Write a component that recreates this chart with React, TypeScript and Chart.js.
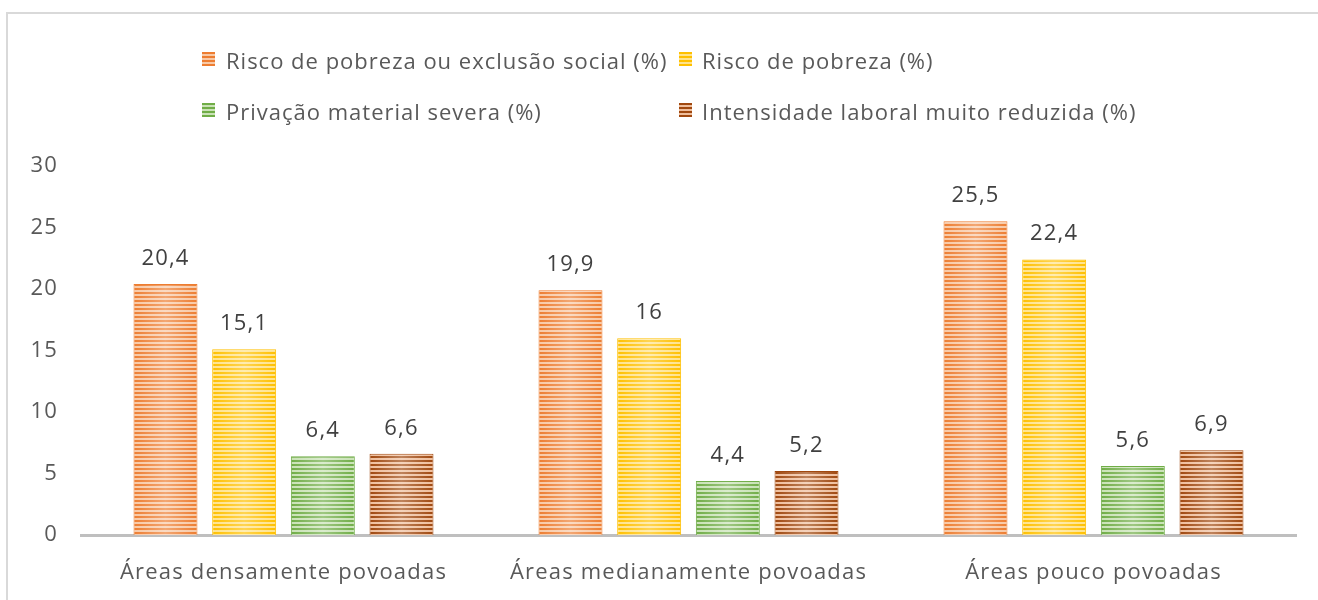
import React, { useEffect, useRef } from "react";
import { Chart, registerables } from "chart.js";

Chart.register(...registerables);

const categories = ["Áreas densamente povoadas", "Áreas medianamente povoadas", "Áreas pouco povoadas"];
const seriesNames = [
  "Risco de pobreza ou exclusão social (%)",
  "Risco de pobreza (%)",
  "Privação material severa (%)",
  "Intensidade laboral muito reduzida (%)",
];
const riscoPobrezaExclusao = [20.4, 19.9, 25.5];
const riscoPobreza = [15.1, 16, 22.4];
const privacaoMaterial = [6.4, 4.4, 5.6];
const intensidadeLaboral = [6.6, 5.2, 6.9];
const yTickValues = [0, 5, 10, 15, 20, 25, 30];

const baseColors = ["#ED7D31", "#FFC000", "#70AD47", "#A0480F"];
const lightColors = ["#F8C9A6", "#FFE38C", "#C9E2B6", "#EFBE9C"];

const FONT = "'Open Sans', 'Noto Sans', sans-serif";
const SPACING = "1.2px";

function makePattern(base: string, light: string): CanvasPattern | string {
  const c = document.createElement("canvas");
  c.width = 4;
  c.height = 4;
  const ctx = c.getContext("2d");
  if (!ctx) return base;
  ctx.fillStyle = light;
  ctx.fillRect(0, 0, 4, 4);
  ctx.fillStyle = base;
  ctx.fillRect(0, 0, 4, 2);
  const p = ctx.createPattern(c, "repeat");
  return p || base;
}

const letterSpacingPlugin = {
  id: "letterSpacing",
  beforeLayout(chart: any) {
    (chart.ctx as any).letterSpacing = SPACING;
  },
  beforeDraw(chart: any) {
    (chart.ctx as any).letterSpacing = SPACING;
  },
};

const overlayAndLabels = {
  id: "overlayAndLabels",
  afterDatasetsDraw(chart: any) {
    const ctx = chart.ctx as CanvasRenderingContext2D;
    ctx.save();
    chart.data.datasets.forEach((ds: any, di: number) => {
      const meta = chart.getDatasetMeta(di);
      meta.data.forEach((bar: any, i: number) => {
        const { x, y, base, width } = bar.getProps(["x", "y", "base", "width"], true);
        const left = x - width / 2;
        const g = ctx.createLinearGradient(left, 0, left + width, 0);
        g.addColorStop(0, "rgba(255,255,255,0)");
        g.addColorStop(0.5, "rgba(255,255,255,0.32)");
        g.addColorStop(1, "rgba(255,255,255,0)");
        ctx.fillStyle = g;
        ctx.fillRect(left + 1, y + 1, width - 2, base - y - 1);
        const v = ds.data[i] as number;
        (ctx as any).letterSpacing = SPACING;
        ctx.fillStyle = "#404040";
        ctx.font = `22px ${FONT}`;
        ctx.textAlign = "center";
        ctx.textBaseline = "alphabetic";
        ctx.fillText(String(v).replace(".", ","), x, y - 19);
      });
    });
    ctx.restore();
  },
};

export default function App() {
  const ref = useRef<HTMLCanvasElement | null>(null);

  useEffect(() => {
    if (!ref.current) return;
    const values = [riscoPobrezaExclusao, riscoPobreza, privacaoMaterial, intensidadeLaboral];
    const chart = new Chart(ref.current, {
      type: "bar",
      data: {
        labels: categories,
        datasets: values.map((d, k) => ({
          label: seriesNames[k],
          data: d,
          backgroundColor: makePattern(baseColors[k], lightColors[k]) as any,
          borderColor: baseColors[k],
          borderWidth: 1,
          categoryPercentage: 0.777,
          barPercentage: 0.813,
        })),
      },
      options: {
        responsive: false,
        animation: false,
        devicePixelRatio: 1,
        layout: { padding: { left: 0, top: 166, right: 22, bottom: 0 } },
        plugins: {
          legend: { display: false },
          tooltip: { enabled: false },
        },
        scales: {
          x: {
            grid: { display: false, drawTicks: false },
            border: { display: true, color: "#BFBFBF", width: 3 },
            ticks: {
              color: "#595959",
              font: { family: FONT, size: 22 },
              padding: 25,
              maxRotation: 0,
            },
            afterFit: (s: any) => {
              s.height = 65;
            },
          },
          y: {
            min: 0,
            max: 30,
            grid: { display: false, drawTicks: false },
            border: { display: false },
            afterBuildTicks: (s: any) => {
              s.ticks = yTickValues.map((v) => ({ value: v }));
            },
            ticks: {
              color: "#595959",
              font: { family: FONT, size: 22 },
              padding: 23,
            },
            afterFit: (s: any) => {
              s.width = 81;
            },
          },
        },
      },
      plugins: [letterSpacingPlugin, overlayAndLabels],
    });
    return () => chart.destroy();
  }, []);

  const legendPos = [
    { mx: 202, tx: 226, cy: 60 },
    { mx: 679, tx: 702, cy: 60 },
    { mx: 202, tx: 226, cy: 111 },
    { mx: 679, tx: 702, cy: 111 },
  ];

  return (
    <div style={{ position: "absolute", left: 0, top: 0, width: 1318, height: 600, background: "#fff", overflow: "hidden" }}>
      <div
        style={{
          position: "absolute",
          left: 6,
          top: 12,
          width: 1400,
          height: 700,
          borderLeft: "2px solid #D9D9D9",
          borderTop: "2px solid #D9D9D9",
        }}
      />
      <canvas ref={ref} width={1318} height={600} style={{ position: "absolute", left: 0, top: 0, width: 1318, height: 600 }} />
      {seriesNames.map((name, k) => (
        <React.Fragment key={name}>
          <div
            style={{
              position: "absolute",
              left: legendPos[k].mx,
              top: legendPos[k].cy - 8,
              width: 13,
              height: 14,
              background: `repeating-linear-gradient(to bottom, ${baseColors[k]} 0px, ${baseColors[k]} 2px, ${lightColors[k]} 2px, ${lightColors[k]} 4px)`,
            }}
          />
          <div
            style={{
              position: "absolute",
              left: legendPos[k].tx,
              top: legendPos[k].cy - 15,
              height: 30,
              lineHeight: "30px",
              fontFamily: FONT,
              fontSize: 22,
              letterSpacing: "1px",
              color: "#595959",
              whiteSpace: "nowrap",
            }}
          >
            {name}
          </div>
        </React.Fragment>
      ))}
    </div>
  );
}
